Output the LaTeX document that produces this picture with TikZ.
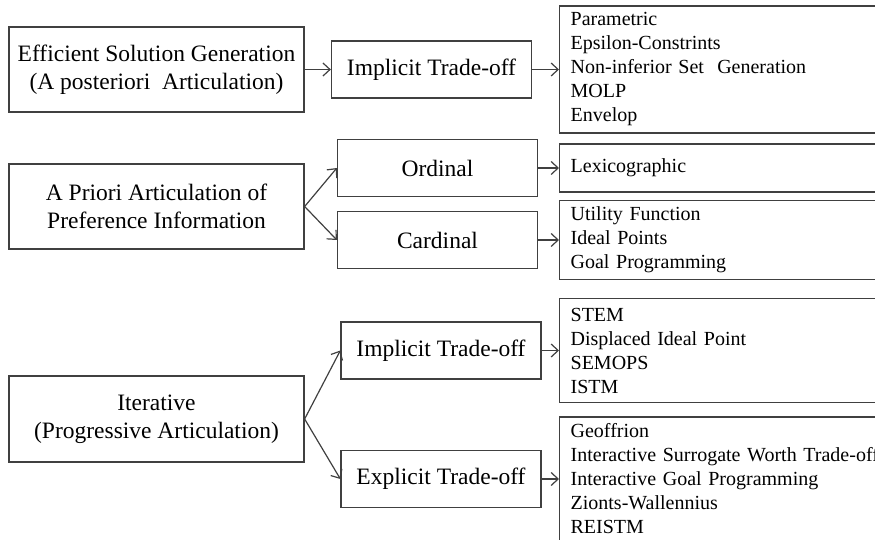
\documentclass[tikz,border=0pt]{standalone}
\usepackage{fontspec}
\setmainfont{Liberation Serif}
\usepackage{tikz}
\usetikzlibrary{arrows.meta,positioning}

\begin{document}
\begin{tikzpicture}[
    x=0.5pt, y=-0.5pt,
    approach/.style={rectangle, draw=black!75, line width=0.65pt, minimum width=147.5pt, minimum height=42.5pt, align=center, font=\fontsize{11.75}{14}\selectfont},
    tradeoff/.style={rectangle, draw=black!75, line width=0.65pt, minimum width=100pt, minimum height=28.5pt, font=\fontsize{11.75}{14}\selectfont},
    methods/.style ={rectangle, draw=black!75, line width=0.65pt, anchor=west, inner xsep=5.5pt, text width=159pt, align=left, font=\fontsize{10}{12}\selectfont},
    arr/.style={->,>={Straight Barb[length=3.5pt,width=6.5pt]}, draw=black!75, line width=0.6pt}
]
  \clip (0,0) rectangle (875,540);

  \node[approach] (gen)     at (156.5,69.5) {Efficient Solution Generation\\(A posteriori \ Articulation)};
  \node[approach] (apriori) at (156.5,206.5) {A Priori Articulation of\\Preference Information};
  \node[approach, minimum height=43pt] (iter) at (156.5,419) {Iterative\\(Progressive Articulation)};

  \node[tradeoff] (impl1)    at (431.5,69.5) {Implicit Trade-off};
  \node[tradeoff] (ordinal)  at (437.5,168)  {Ordinal};
  \node[tradeoff] (cardinal) at (437.5,240)  {Cardinal};
  \node[tradeoff] (impl2)    at (441,350.5)  {Implicit Trade-off};
  \node[tradeoff] (expl)     at (441,479)    {Explicit Trade-off};

  \node[methods, minimum height=62.5pt] (gens)  at (559,69.5)  {Parametric\\Epsilon-Constrints\\Non-inferior Set \ Generation\\MOLP\\Envelop};
  \node[methods, minimum height=24pt]   (ords)  at (559,168)   {Lexicographic};
  \node[methods, minimum height=37pt]   (cards) at (559,240)   {Utility Function\\Ideal Points\\Goal Programming};
  \node[methods, minimum height=52pt]   (impls) at (559,350.5) {STEM\\Displaced Ideal Point\\SEMOPS\\ISTM};
  \node[methods, minimum height=62pt]   (expls) at (559,479)   {Geoffrion\\Interactive Surrogate Worth Trade-off\\Interactive Goal Programming\\Zionts-Wallennius\\REISTM};

  \draw[arr] (gen) -- (impl1);
  \draw[arr] (impl1) -- (gens);
  \draw[arr] (apriori.east) -- (ordinal.west);
  \draw[arr] (apriori.east) -- (cardinal.west);
  \draw[arr] (ordinal) -- (ords);
  \draw[arr] (cardinal) -- (cards);
  \draw[arr] (iter.east) -- (impl2.west);
  \draw[arr] (iter.east) -- (expl.west);
  \draw[arr] (impl2) -- (impls);
  \draw[arr] (expl) -- (expls);
\end{tikzpicture}
\end{document}
